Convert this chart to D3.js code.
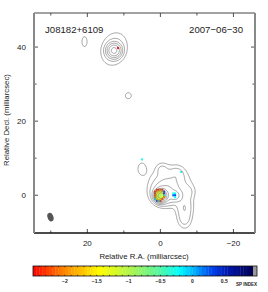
<!DOCTYPE html>
<html>
<head>
<meta charset="utf-8">
<script src="https://cdn.jsdelivr.net/npm/d3@7"></script>
<style>
  body { margin: 0; background: #fff; }
  svg text { font-family: "Liberation Sans", Arial, sans-serif; fill: #222; }
</style>
</head>
<body>
<svg id="chart" width="268" height="292"></svg>
<script>
// ---- data (milliarcsec, relative flux units) ----
const sourceName = "J08182+6109";
const obsDate = "2007-06-30";

// gaussian model components
const compX    = [0.0, -1.0, -4.0, -2.5, -0.3, -4.5, -7.5, -6.5, -6.5, 5.2, 12.8, 12.8, 20.9, 8.9];
const compY    = [0.0, 0.5, 0.0, 3.0, 7.2, 6.0, 1.0, -3.0, -6.5, 7.3, 39.2, 39.6, 41.6, 27.0];
const compPeak = [200, 10, 8, 4.0, 1.6, 1.5, 1.5, 3.5, 2.2, 1.5, 40, 3, 1.5, 1.5];
const compMaj  = [1.8, 4.5, 2.0, 8.0, 2.5, 3.0, 3.0, 5.0, 4.0, 3.7, 2.3, 7.1, 3.5, 2.1];
const compMin  = [1.8, 4.0, 2.0, 7.0, 2.5, 3.0, 3.0, 3.5, 3.0, 2.6, 2.3, 5.5, 1.8, 2.1];
const compPA   = [0, 90, 0, 90, 0, 0, 0, 0, 0, 0, 0, -20, 0, 0];

const contourLevels = [1, 2, 4, 8, 16, 32, 64, 128];

// spectral index cells near the core: rows y=1.5..-1.5, cols x=1.5..-1.5 (0.5 mas)
const coreIdxX = [1.5, 1.0, 0.5, 0.0, -0.5, -1.0, -1.5];
const coreIdxY = [1.5, 1.0, 0.5, 0.0, -0.5, -1.0, -1.5];
const coreIdx = [
  [null, -2.4, -2.3, -2.2, -2.3, null, null],
  [-2.4, -2.0, -1.6, -1.5, -1.8, 0.3, null],
  [-2.3, -1.5, -1.2, -1.1, -1.3, 0.4, null],
  [-2.2, -1.4, -1.0, -0.9, -1.2, -0.3, null],
  [-2.0, -1.3, -1.0, -1.0, -1.3, -2.0, null],
  [-0.2, -1.6, -1.4, -1.5, -2.2, null, null],
  [null, 0.3, -0.5, -2.3, null, null, null]
];
// other spectral index spots
const spotX = [-3.5, -4.0, -3.5, -4.0, -4.0, 11.6, -5.7, 5.1];
const spotY = [0.5, 0.5, 0.0, 0.0, -0.5, 39.8, 6.3, 9.7];
const spotIdx = [-0.3, -0.2, 0.2, 0.3, -0.2, -2.5, -0.3, -0.3];

// restoring beam
const beamX = 30.1, beamY = -5.9, beamMaj = 2.4, beamMin = 1.6, beamPA = -20;

const xTicks = [30, 20, 10, 0, -10, -20];
const xLabels = [20, 0, -20];
const yTicks = [40, 30, 20, 10, 0];
const yLabels = [40, 20, 0];
const cbarLabels = [-2, -1.5, -1, -0.5, 0, 0.5];

// ---- layout ----
const svg = d3.select("#chart");
const pL = 34, pR = 255, pT = 13, pB = 233;

const x = d3.scaleLinear().domain([34.6, -25.9]).range([pL, pR]);
const y = d3.scaleLinear().domain([49.2, -10.2]).range([pT, pB]);

const idxColor = d3.scaleLinear()
  .domain([-2.5, -2.0, -1.45, -1.0, -0.55, -0.2, 0.05, 0.3, 0.55, 0.95])
  .range(["#ff0000", "#ff8a00", "#ffff00", "#b4f54a", "#5cf59a", "#00ffff", "#00a8ff", "#0044ee", "#0018b0", "#000050"])
  .clamp(true);

// ---- model image -> contours ----
const step = 0.25;
const gx0 = 35, gy0 = 49.5;
const nx = Math.round((35 + 26) / step), ny = Math.round((49.5 + 10.5) / step);
const grid = new Float64Array(nx * ny);
const k4 = 4 * Math.LN2;
for (let j = 0; j < ny; j++) {
  const dy = gy0 - j * step;
  for (let i = 0; i < nx; i++) {
    const dx = gx0 - i * step;
    let v = 0;
    for (let c = 0; c < compX.length; c++) {
      const pa = compPA[c] * Math.PI / 180;
      const ex = dx - compX[c], ey = dy - compY[c];
      const u = ex * Math.sin(pa) + ey * Math.cos(pa);
      const w = ex * Math.cos(pa) - ey * Math.sin(pa);
      v += compPeak[c] * Math.exp(-k4 * (u * u / (compMaj[c] * compMaj[c]) + w * w / (compMin[c] * compMin[c])));
    }
    grid[j * nx + i] = v;
  }
}

const contours = d3.contours().size([nx, ny]).thresholds(contourLevels)(grid);
const toPix = d3.geoTransform({
  point: function(cx, cy) {
    this.stream.point(x(gx0 - cx * step), y(gy0 - cy * step));
  }
});
const path = d3.geoPath(toPix);

const plot = svg.append("g");
plot.append("clipPath").attr("id", "clip")
  .append("rect").attr("x", pL).attr("y", pT).attr("width", pR - pL).attr("height", pB - pT);

// spectral index pixels
const cells = [];
coreIdx.forEach((row, r) => row.forEach((v, c) => {
  if (v !== null) cells.push({x: coreIdxX[c], y: coreIdxY[r], v: v});
}));
spotX.forEach((sx, i) => cells.push({x: sx, y: spotY[i], v: spotIdx[i]}));

const cw = Math.abs(x(0.5) - x(0)), ch = Math.abs(y(0.5) - y(0));
plot.append("g").selectAll("rect")
  .data(cells)
  .enter().append("rect")
  .attr("x", d => x(d.x) - cw / 2)
  .attr("y", d => y(d.y) - ch / 2)
  .attr("width", cw + 0.2)
  .attr("height", ch + 0.2)
  .attr("fill", d => idxColor(d.v));

plot.append("g").attr("clip-path", "url(#clip)")
  .selectAll("path")
  .data(contours)
  .enter().append("path")
  .attr("d", path)
  .attr("fill", "none")
  .attr("stroke", "#6a6a6a")
  .attr("stroke-width", 0.6);

// beam
plot.append("ellipse")
  .attr("cx", x(beamX)).attr("cy", y(beamY))
  .attr("rx", Math.abs(x(beamMin / 2) - x(0)))
  .attr("ry", Math.abs(y(beamMaj / 2) - y(0)))
  .attr("transform", `rotate(${beamPA},${x(beamX)},${y(beamY)})`)
  .attr("fill", "#555");

// ---- axes ----
function tickLen(v) { return v % 20 === 0 ? 4 : 2.5; }
const axes = svg.append("g").attr("stroke", "#222").attr("stroke-width", 0.8);
xTicks.forEach(v => {
  axes.append("line").attr("x1", x(v)).attr("x2", x(v)).attr("y1", pB).attr("y2", pB - tickLen(v));
  axes.append("line").attr("x1", x(v)).attr("x2", x(v)).attr("y1", pT).attr("y2", pT + tickLen(v));
});
yTicks.forEach(v => {
  axes.append("line").attr("x1", pL).attr("x2", pL + tickLen(v)).attr("y1", y(v)).attr("y2", y(v));
  axes.append("line").attr("x1", pR).attr("x2", pR - tickLen(v)).attr("y1", y(v)).attr("y2", y(v));
});

// frame
svg.append("line").attr("x1", pL).attr("x2", pR).attr("y1", pT).attr("y2", pT)
  .attr("stroke", "#444").attr("stroke-width", 1);
svg.append("line").attr("x1", pL).attr("x2", pR).attr("y1", pB).attr("y2", pB)
  .attr("stroke", "#111").attr("stroke-width", 1.5);
svg.append("line").attr("x1", pL).attr("x2", pL).attr("y1", pT).attr("y2", pB)
  .attr("stroke", "#888").attr("stroke-width", 2);
svg.append("line").attr("x1", pR).attr("x2", pR).attr("y1", pT).attr("y2", pB)
  .attr("stroke", "#888").attr("stroke-width", 2);

svg.append("g").selectAll("text")
  .data(xLabels)
  .enter().append("text")
  .attr("x", d => x(d)).attr("y", 246)
  .attr("text-anchor", "middle").attr("font-size", 8)
  .text(d => d < 0 ? "\u2212" + Math.abs(d) : d);

svg.append("g").selectAll("text")
  .data(yLabels)
  .enter().append("text")
  .attr("x", 26).attr("y", d => y(d) + 3)
  .attr("text-anchor", "end").attr("font-size", 8)
  .text(d => d);

svg.append("text")
  .attr("x", 144).attr("y", 259)
  .attr("text-anchor", "middle").attr("font-size", 7.8)
  .text("Relative R.A. (milliarcsec)");

svg.append("text")
  .attr("transform", "translate(9,120) rotate(-90)")
  .attr("text-anchor", "middle").attr("font-size", 7.8)
  .text("Relative Decl. (milliarcsec)");

svg.append("text")
  .attr("x", 45).attr("y", 33).attr("font-size", 9.6)
  .text(sourceName);
svg.append("text")
  .attr("x", 243).attr("y", 33).attr("text-anchor", "end").attr("font-size", 9.6)
  .text(obsDate.replace(/-/g, "\u2212"));

// ---- colour bar ----
const cb = d3.scaleLinear().domain([-2.5, 0.95]).range([33, 253]);
const cbTop = 266, cbH = 10;
const cbStops = d3.range(-2.5, 0.951, 0.05);
svg.append("g").selectAll("rect")
  .data(cbStops)
  .enter().append("rect")
  .attr("x", d => cb(d))
  .attr("y", cbTop)
  .attr("width", cb(0.05) - cb(0) + 0.3)
  .attr("height", cbH)
  .attr("fill", d => idxColor(d + 0.025));
svg.append("rect").attr("x", 253).attr("y", cbTop).attr("width", 4).attr("height", cbH).attr("fill", "#999");
svg.append("rect").attr("x", 33).attr("y", cbTop).attr("width", 224).attr("height", cbH)
  .attr("fill", "none").attr("stroke", "#111").attr("stroke-width", 0.8);

const cbMinor = d3.range(-2.4, 0.95, 0.1);
svg.append("g").selectAll("line")
  .data(cbMinor)
  .enter().append("line")
  .attr("x1", d => cb(d)).attr("x2", d => cb(d))
  .attr("y1", cbTop).attr("y2", cbTop + 1.2)
  .attr("stroke", "#111").attr("stroke-width", 0.7);
svg.append("g").selectAll("line")
  .data(cbMinor)
  .enter().append("line")
  .attr("x1", d => cb(d)).attr("x2", d => cb(d))
  .attr("y1", cbTop + cbH).attr("y2", cbTop + cbH - 1.2)
  .attr("stroke", "#111").attr("stroke-width", 0.7);

svg.append("g").selectAll("text")
  .data(cbarLabels)
  .enter().append("text")
  .attr("x", d => cb(d)).attr("y", 283)
  .attr("text-anchor", "middle").attr("font-size", 5).attr("font-weight", "bold")
  .text(d => d < 0 ? "\u2212" + Math.abs(d) : d);

svg.append("text")
  .attr("x", 257).attr("y", 286).attr("text-anchor", "end")
  .attr("font-size", 4.5).attr("font-weight", "bold")
  .text("SP INDEX");
</script>
</body>
</html>
